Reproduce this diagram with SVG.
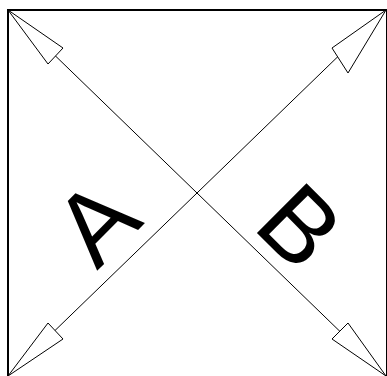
<svg xmlns="http://www.w3.org/2000/svg" width="387" height="376" viewBox="0 0 387 376">
<style>
.ln{stroke:#000;stroke-width:1;fill:none}
.ah{stroke:#000;stroke-width:1;fill:#fff}
.lbl{font-family:"Liberation Sans",Arial,sans-serif;font-size:102px;fill:#000}
</style>
<rect width="387" height="376" fill="#fff"/>
<g id="frame"><rect x="8" y="10" width="379" height="367" fill="none" stroke="#000" stroke-width="2"/></g>
<g id="connectors">
<line class="ln" x1="8" y1="10" x2="386" y2="376"/>
<line class="ln" x1="386" y1="10" x2="8" y2="376"/>
<polygon class="ah" points="8,10 63,48 48,64"/>
<polygon class="ah" points="386,10 332,48 348,73"/>
<polygon class="ah" points="8,376 48,323 63,339"/>
<polygon class="ah" points="386,376 348,323 332,339"/>
</g>
<g id="nodeA"><text class="lbl" text-anchor="middle" transform="translate(121,247) rotate(-45)">A</text></g>
<g id="nodeB"><text class="lbl" transform="translate(251,227) rotate(45)">B</text></g>
</svg>
